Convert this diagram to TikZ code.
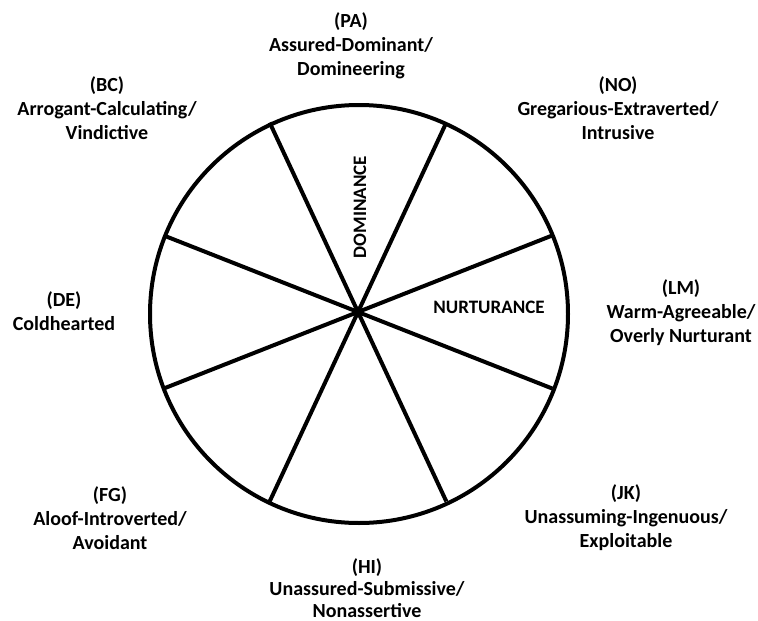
\documentclass[tikz,border=0pt]{standalone}
\usepackage{fontspec}
\setmainfont{Carlito}
\usetikzlibrary{calc}
\begin{document}
\begin{tikzpicture}[x=1pt,y=-1pt,
  lbl/.style={align=center,font=\bfseries\fontsize{20}{24}\selectfont,inner sep=0pt},
  axis/.style={font=\bfseries\fontsize{19}{22}\selectfont,inner sep=0pt},
  wheel/.style={line width=4pt,draw=black}]
\useasboundingbox[fill=white] (0,0) rectangle (758,621);
\coordinate (o) at (359,314);
\coordinate (c) at (358,312);
\draw[wheel] (o) circle[radius=209pt];
\foreach \a [count=\i] in {-21.5,-65,-115,-158.5}{
  \coordinate (p\i) at ($(c)+(\a:209)$);
  \coordinate (q\i) at ($(c)+(\a+180:209)$);
  \draw[wheel] (p\i) -- (q\i);
}
\node[axis,rotate=90] (dom) at (360,207) {DOMINANCE};
\node[axis] (nur) at (489,307) {NURTURANCE};
\node[lbl] (pa) at (351,46) {(PA)\\Assured-Dominant/\\Domineering};
\node[lbl] (bc) at (107,108) {(BC)\\Arrogant-Calculating/\\Vindictive};
\node[lbl] (no) at (618,108) {(NO)\\Gregarious-Extraverted/\\Intrusive};
\node[lbl] (de) at (64,311) {(DE)\\Coldhearted};
\node[lbl] (lm) at (681,313) {(LM)\\Warm-Agreeable/\\Overly Nurturant};
\node[lbl] (fg) at (110,518) {(FG)\\Aloof-Introverted/\\Avoidant};
\node[lbl] (jk) at (626,518) {(JK)\\Unassuming-Ingenuous/\\Exploitable};
\node[lbl,font=\bfseries\fontsize{20}{22}\selectfont] (hi) at (367,588) {(HI)\\Unassured-Submissive/\\Nonassertive};
\end{tikzpicture}
\end{document}
